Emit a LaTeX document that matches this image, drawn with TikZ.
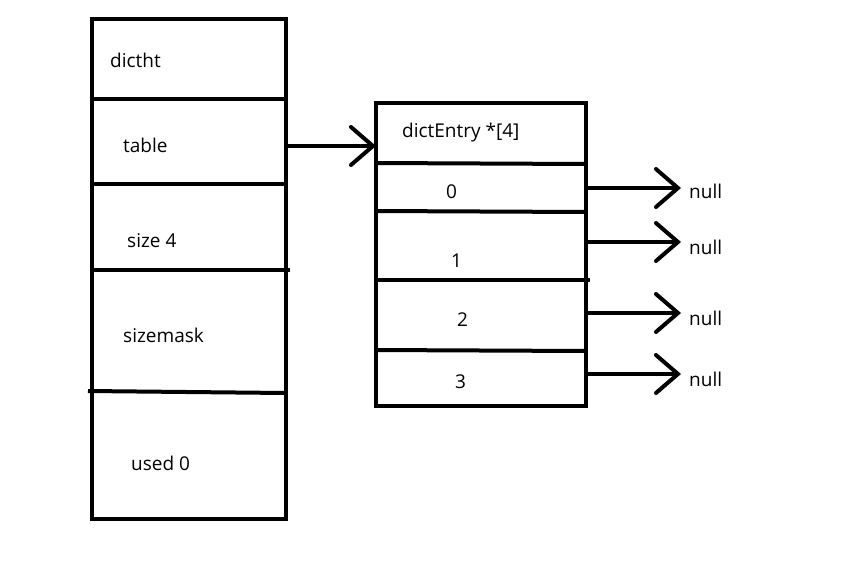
\documentclass[tikz,border=0pt]{standalone}
\usepackage{fontspec}
\setmainfont{Open Sans}
\usetikzlibrary{calc,arrows.meta}

\tikzset{
  box/.style={line width=4pt},
  lbl/.style={anchor=west,inner sep=0pt,font=\fontsize{19}{19}\selectfont},
  ptr/.style={line width=4pt,-{Straight Barb[length=22pt,width=38pt,line cap=round]}},
}

\begin{document}
\begin{tikzpicture}[x=1pt,y=-1pt]
      \useasboundingbox (0,0) rectangle (853,560);
      % dictht
      \coordinate (HT) at (92,19) {};
      \coordinate (HB) at (286,519) {};
      \draw[box] (HT) rectangle (HB);
      \draw[box] (92,99)--(286,99);
      \draw[box] (92,184)--(286,184);
      \draw[box] (92,270)--(290,270);
      \draw[box] (88,391)--(286,393);
      \node[lbl] (dictht) at (110,60) {dictht};
      \node[lbl] (table) at (123,145) {table};
      \node[lbl] (size) at (127,241) {size 4};
      \node[lbl] (sizemask) at (123,335) {sizemask};
      \node[lbl] (used) at (131,463) {used 0};
      % dictEntry array
      \coordinate (ET) at (376,103) {};
      \coordinate (EB) at (586,406) {};
      \draw[box] (ET) rectangle (EB);
      \draw[box] (376,163)--(586,164);
      \draw[box] (376,211)--(586,212);
      \draw[box] (376,280)--(590,280);
      \draw[box] (376,350)--(586,351);
      \node[lbl] (entry) at (402,133) {dictEntry *[4]};
      \node[lbl] (e0) at (446,192) {0};
      \node[lbl] (e1) at (451,261) {1};
      \node[lbl] (e2) at (457,320) {2};
      \node[lbl] (e3) at (455,382) {3};
      % pointers
      \coordinate (tab) at (286,146);
      \coordinate (arr) at (376,146);
      \draw[ptr] (tab)--(arr);
      \foreach \y/\n [count=\i from 0] in {188/191,242/247,313/318,374/379}{
        \coordinate (p\i) at (586,\y);
        \coordinate (q\i) at (681,\y);
        \node[lbl] (null\i) at (689,\n) {null};
        \draw[ptr] (p\i)--(q\i);
      }
    \end{tikzpicture}
\end{document}
